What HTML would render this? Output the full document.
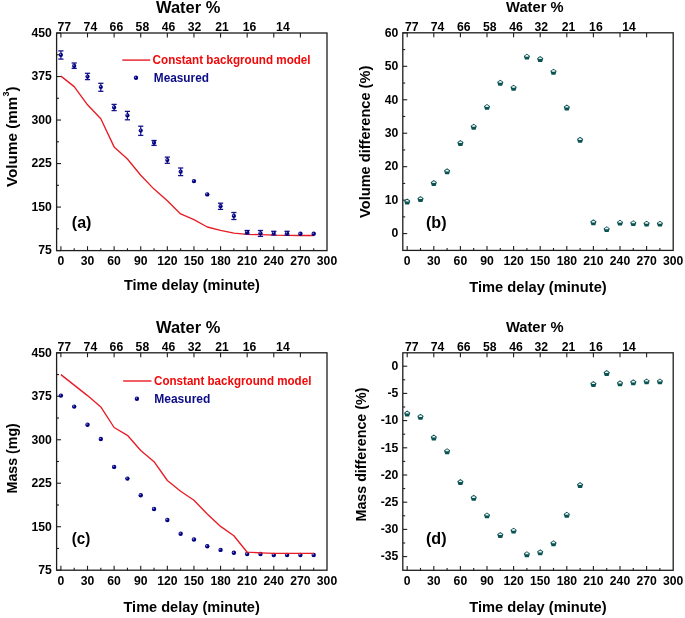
<!DOCTYPE html><html><head><meta charset="utf-8"><style>html,body{margin:0;padding:0;background:#fff;}svg{display:block;will-change:transform;}</style></head><body>
<svg width="685" height="618" viewBox="0 0 685 618" font-family="'Liberation Sans', sans-serif" font-weight="bold">
<rect width="685" height="618" fill="#fff"/>
<rect x="56.6" y="33" width="270.4" height="217.6" fill="none" stroke="#1e1e1e" stroke-width="1.3"/>
<line x1="60.9" y1="250.6" x2="60.9" y2="246.2" stroke="#1e1e1e" stroke-width="1.1"/>
<line x1="60.9" y1="33" x2="60.9" y2="37.4" stroke="#1e1e1e" stroke-width="1.1"/>
<line x1="74.2" y1="250.6" x2="74.2" y2="248.2" stroke="#1e1e1e" stroke-width="1.1"/>
<line x1="87.51" y1="250.6" x2="87.51" y2="246.2" stroke="#1e1e1e" stroke-width="1.1"/>
<line x1="87.51" y1="33" x2="87.51" y2="37.4" stroke="#1e1e1e" stroke-width="1.1"/>
<line x1="100.81" y1="250.6" x2="100.81" y2="248.2" stroke="#1e1e1e" stroke-width="1.1"/>
<line x1="114.12" y1="250.6" x2="114.12" y2="246.2" stroke="#1e1e1e" stroke-width="1.1"/>
<line x1="114.12" y1="33" x2="114.12" y2="37.4" stroke="#1e1e1e" stroke-width="1.1"/>
<line x1="127.43" y1="250.6" x2="127.43" y2="248.2" stroke="#1e1e1e" stroke-width="1.1"/>
<line x1="140.73" y1="250.6" x2="140.73" y2="246.2" stroke="#1e1e1e" stroke-width="1.1"/>
<line x1="140.73" y1="33" x2="140.73" y2="37.4" stroke="#1e1e1e" stroke-width="1.1"/>
<line x1="154.04" y1="250.6" x2="154.04" y2="248.2" stroke="#1e1e1e" stroke-width="1.1"/>
<line x1="167.34" y1="250.6" x2="167.34" y2="246.2" stroke="#1e1e1e" stroke-width="1.1"/>
<line x1="167.34" y1="33" x2="167.34" y2="37.4" stroke="#1e1e1e" stroke-width="1.1"/>
<line x1="180.65" y1="250.6" x2="180.65" y2="248.2" stroke="#1e1e1e" stroke-width="1.1"/>
<line x1="193.95" y1="250.6" x2="193.95" y2="246.2" stroke="#1e1e1e" stroke-width="1.1"/>
<line x1="193.95" y1="33" x2="193.95" y2="37.4" stroke="#1e1e1e" stroke-width="1.1"/>
<line x1="207.26" y1="250.6" x2="207.26" y2="248.2" stroke="#1e1e1e" stroke-width="1.1"/>
<line x1="220.56" y1="250.6" x2="220.56" y2="246.2" stroke="#1e1e1e" stroke-width="1.1"/>
<line x1="220.56" y1="33" x2="220.56" y2="37.4" stroke="#1e1e1e" stroke-width="1.1"/>
<line x1="233.87" y1="250.6" x2="233.87" y2="248.2" stroke="#1e1e1e" stroke-width="1.1"/>
<line x1="247.17" y1="250.6" x2="247.17" y2="246.2" stroke="#1e1e1e" stroke-width="1.1"/>
<line x1="247.17" y1="33" x2="247.17" y2="37.4" stroke="#1e1e1e" stroke-width="1.1"/>
<line x1="260.48" y1="250.6" x2="260.48" y2="248.2" stroke="#1e1e1e" stroke-width="1.1"/>
<line x1="273.78" y1="250.6" x2="273.78" y2="246.2" stroke="#1e1e1e" stroke-width="1.1"/>
<line x1="273.78" y1="33" x2="273.78" y2="37.4" stroke="#1e1e1e" stroke-width="1.1"/>
<line x1="287.09" y1="250.6" x2="287.09" y2="248.2" stroke="#1e1e1e" stroke-width="1.1"/>
<line x1="300.39" y1="250.6" x2="300.39" y2="246.2" stroke="#1e1e1e" stroke-width="1.1"/>
<line x1="300.39" y1="33" x2="300.39" y2="37.4" stroke="#1e1e1e" stroke-width="1.1"/>
<line x1="313.7" y1="250.6" x2="313.7" y2="248.2" stroke="#1e1e1e" stroke-width="1.1"/>
<text x="60.9" y="265.2" font-size="12.2" text-anchor="middle" fill="#000">0</text>
<text x="87.51" y="265.2" font-size="12.2" text-anchor="middle" fill="#000">30</text>
<text x="114.12" y="265.2" font-size="12.2" text-anchor="middle" fill="#000">60</text>
<text x="140.73" y="265.2" font-size="12.2" text-anchor="middle" fill="#000">90</text>
<text x="167.34" y="265.2" font-size="12.2" text-anchor="middle" fill="#000">120</text>
<text x="193.95" y="265.2" font-size="12.2" text-anchor="middle" fill="#000">150</text>
<text x="220.56" y="265.2" font-size="12.2" text-anchor="middle" fill="#000">180</text>
<text x="247.17" y="265.2" font-size="12.2" text-anchor="middle" fill="#000">210</text>
<text x="273.78" y="265.2" font-size="12.2" text-anchor="middle" fill="#000">240</text>
<text x="300.39" y="265.2" font-size="12.2" text-anchor="middle" fill="#000">270</text>
<text x="327" y="265.2" font-size="12.2" text-anchor="middle" fill="#000">300</text>
<line x1="56.6" y1="33" x2="61" y2="33" stroke="#1e1e1e" stroke-width="1.1"/>
<text x="51.9" y="36.8" font-size="12.2" text-anchor="end" fill="#000">450</text>
<line x1="56.6" y1="76.52" x2="61" y2="76.52" stroke="#1e1e1e" stroke-width="1.1"/>
<text x="51.9" y="80.32" font-size="12.2" text-anchor="end" fill="#000">375</text>
<line x1="56.6" y1="120.04" x2="61" y2="120.04" stroke="#1e1e1e" stroke-width="1.1"/>
<text x="51.9" y="123.84" font-size="12.2" text-anchor="end" fill="#000">300</text>
<line x1="56.6" y1="163.56" x2="61" y2="163.56" stroke="#1e1e1e" stroke-width="1.1"/>
<text x="51.9" y="167.36" font-size="12.2" text-anchor="end" fill="#000">225</text>
<line x1="56.6" y1="207.08" x2="61" y2="207.08" stroke="#1e1e1e" stroke-width="1.1"/>
<text x="51.9" y="210.88" font-size="12.2" text-anchor="end" fill="#000">150</text>
<line x1="56.6" y1="250.6" x2="61" y2="250.6" stroke="#1e1e1e" stroke-width="1.1"/>
<text x="51.9" y="254.4" font-size="12.2" text-anchor="end" fill="#000">75</text>
<line x1="56.6" y1="54.76" x2="59" y2="54.76" stroke="#1e1e1e" stroke-width="1.1"/>
<line x1="56.6" y1="98.28" x2="59" y2="98.28" stroke="#1e1e1e" stroke-width="1.1"/>
<line x1="56.6" y1="141.8" x2="59" y2="141.8" stroke="#1e1e1e" stroke-width="1.1"/>
<line x1="56.6" y1="185.32" x2="59" y2="185.32" stroke="#1e1e1e" stroke-width="1.1"/>
<line x1="56.6" y1="228.84" x2="59" y2="228.84" stroke="#1e1e1e" stroke-width="1.1"/>
<text x="64.3" y="30.8" font-size="12.2" text-anchor="middle" fill="#000">77</text>
<text x="90.4" y="30.8" font-size="12.2" text-anchor="middle" fill="#000">74</text>
<text x="116.4" y="30.8" font-size="12.2" text-anchor="middle" fill="#000">66</text>
<text x="142.4" y="30.8" font-size="12.2" text-anchor="middle" fill="#000">58</text>
<text x="168.5" y="30.8" font-size="12.2" text-anchor="middle" fill="#000">46</text>
<text x="194.5" y="30.8" font-size="12.2" text-anchor="middle" fill="#000">32</text>
<text x="222" y="30.8" font-size="12.2" text-anchor="middle" fill="#000">21</text>
<text x="249.5" y="30.8" font-size="12.2" text-anchor="middle" fill="#000">16</text>
<text x="282.9" y="30.8" font-size="12.2" text-anchor="middle" fill="#000">14</text>
<text x="156.1" y="12.8" font-size="15.6" text-anchor="start" fill="#000" textLength="64.2" lengthAdjust="spacingAndGlyphs">Water %</text>
<text x="123.9" y="290.4" font-size="14.6" text-anchor="start" fill="#000" textLength="136" lengthAdjust="spacingAndGlyphs">Time delay (minute)</text>
<text transform="translate(17.3,187.0) rotate(-90)" font-size="15.4" textLength="100.5" lengthAdjust="spacingAndGlyphs">Volume (mm<tspan font-size="9" dy="-8.5">3</tspan><tspan dy="8.5">)</tspan></text>
<text x="71.8" y="228.1" font-size="17" text-anchor="start" fill="#000" textLength="19.6" lengthAdjust="spacingAndGlyphs">(a)</text>
<polyline points="60.9,76.1 74.2,86.6 87.51,104.8 100.81,118.7 114.12,146.9 127.43,159 140.73,175.3 154.04,189.1 167.34,200.8 180.65,213.9 193.95,219.7 207.26,227 220.56,230.4 233.87,233.2 247.17,234.3 260.48,234.7 273.78,235.2 287.09,235.4 300.39,235.5 313.7,235.5" fill="none" stroke="#e81c24" stroke-width="1.35" stroke-linejoin="round"/>
<line x1="60.9" y1="50.9" x2="60.9" y2="59.1" stroke="#14148a" stroke-width="1.2"/>
<line x1="58.3" y1="50.9" x2="63.5" y2="50.9" stroke="#14148a" stroke-width="1.3"/>
<line x1="58.3" y1="59.1" x2="63.5" y2="59.1" stroke="#14148a" stroke-width="1.3"/>
<circle cx="60.9" cy="54.9" r="2.1" fill="#000080"/>
<circle cx="60.4" cy="54.3" r="0.7" fill="#9a9ad8"/>
<line x1="74.2" y1="63" x2="74.2" y2="68.4" stroke="#14148a" stroke-width="1.2"/>
<line x1="71.61" y1="63" x2="76.8" y2="63" stroke="#14148a" stroke-width="1.3"/>
<line x1="71.61" y1="68.4" x2="76.8" y2="68.4" stroke="#14148a" stroke-width="1.3"/>
<circle cx="74.2" cy="65.9" r="2.1" fill="#000080"/>
<circle cx="73.7" cy="65.3" r="0.7" fill="#9a9ad8"/>
<line x1="87.51" y1="73.3" x2="87.51" y2="79.6" stroke="#14148a" stroke-width="1.2"/>
<line x1="84.91" y1="73.3" x2="90.11" y2="73.3" stroke="#14148a" stroke-width="1.3"/>
<line x1="84.91" y1="79.6" x2="90.11" y2="79.6" stroke="#14148a" stroke-width="1.3"/>
<circle cx="87.51" cy="76.6" r="2.1" fill="#000080"/>
<circle cx="87.01" cy="76" r="0.7" fill="#9a9ad8"/>
<line x1="100.81" y1="83.3" x2="100.81" y2="91.3" stroke="#14148a" stroke-width="1.2"/>
<line x1="98.22" y1="83.3" x2="103.41" y2="83.3" stroke="#14148a" stroke-width="1.3"/>
<line x1="98.22" y1="91.3" x2="103.41" y2="91.3" stroke="#14148a" stroke-width="1.3"/>
<circle cx="100.81" cy="87" r="2.1" fill="#000080"/>
<circle cx="100.31" cy="86.4" r="0.7" fill="#9a9ad8"/>
<line x1="114.12" y1="104.4" x2="114.12" y2="110.6" stroke="#14148a" stroke-width="1.2"/>
<line x1="111.52" y1="104.4" x2="116.72" y2="104.4" stroke="#14148a" stroke-width="1.3"/>
<line x1="111.52" y1="110.6" x2="116.72" y2="110.6" stroke="#14148a" stroke-width="1.3"/>
<circle cx="114.12" cy="107.4" r="2.1" fill="#000080"/>
<circle cx="113.62" cy="106.8" r="0.7" fill="#9a9ad8"/>
<line x1="127.43" y1="111.4" x2="127.43" y2="119.8" stroke="#14148a" stroke-width="1.2"/>
<line x1="124.83" y1="111.4" x2="130.03" y2="111.4" stroke="#14148a" stroke-width="1.3"/>
<line x1="124.83" y1="119.8" x2="130.03" y2="119.8" stroke="#14148a" stroke-width="1.3"/>
<circle cx="127.43" cy="115.4" r="2.1" fill="#000080"/>
<circle cx="126.93" cy="114.8" r="0.7" fill="#9a9ad8"/>
<line x1="140.73" y1="126.2" x2="140.73" y2="135.4" stroke="#14148a" stroke-width="1.2"/>
<line x1="138.13" y1="126.2" x2="143.33" y2="126.2" stroke="#14148a" stroke-width="1.3"/>
<line x1="138.13" y1="135.4" x2="143.33" y2="135.4" stroke="#14148a" stroke-width="1.3"/>
<circle cx="140.73" cy="130.6" r="2.1" fill="#000080"/>
<circle cx="140.23" cy="130" r="0.7" fill="#9a9ad8"/>
<line x1="154.04" y1="140.5" x2="154.04" y2="145.4" stroke="#14148a" stroke-width="1.2"/>
<line x1="151.44" y1="140.5" x2="156.64" y2="140.5" stroke="#14148a" stroke-width="1.3"/>
<line x1="151.44" y1="145.4" x2="156.64" y2="145.4" stroke="#14148a" stroke-width="1.3"/>
<circle cx="154.04" cy="142.7" r="2.1" fill="#000080"/>
<circle cx="153.54" cy="142.1" r="0.7" fill="#9a9ad8"/>
<line x1="167.34" y1="157.1" x2="167.34" y2="163.3" stroke="#14148a" stroke-width="1.2"/>
<line x1="164.74" y1="157.1" x2="169.94" y2="157.1" stroke="#14148a" stroke-width="1.3"/>
<line x1="164.74" y1="163.3" x2="169.94" y2="163.3" stroke="#14148a" stroke-width="1.3"/>
<circle cx="167.34" cy="160.1" r="2.1" fill="#000080"/>
<circle cx="166.84" cy="159.5" r="0.7" fill="#9a9ad8"/>
<line x1="180.65" y1="168" x2="180.65" y2="175.6" stroke="#14148a" stroke-width="1.2"/>
<line x1="178.05" y1="168" x2="183.25" y2="168" stroke="#14148a" stroke-width="1.3"/>
<line x1="178.05" y1="175.6" x2="183.25" y2="175.6" stroke="#14148a" stroke-width="1.3"/>
<circle cx="180.65" cy="171.7" r="2.1" fill="#000080"/>
<circle cx="180.15" cy="171.1" r="0.7" fill="#9a9ad8"/>
<circle cx="193.95" cy="181.1" r="2.2" fill="#000080"/>
<circle cx="193.35" cy="180.5" r="0.8" fill="#8a8ad0"/>
<circle cx="207.26" cy="194.4" r="2.2" fill="#000080"/>
<circle cx="206.66" cy="193.8" r="0.8" fill="#8a8ad0"/>
<line x1="220.56" y1="203.2" x2="220.56" y2="209.4" stroke="#14148a" stroke-width="1.2"/>
<line x1="217.96" y1="203.2" x2="223.16" y2="203.2" stroke="#14148a" stroke-width="1.3"/>
<line x1="217.96" y1="209.4" x2="223.16" y2="209.4" stroke="#14148a" stroke-width="1.3"/>
<circle cx="220.56" cy="206.2" r="2.1" fill="#000080"/>
<circle cx="220.06" cy="205.6" r="0.7" fill="#9a9ad8"/>
<line x1="233.87" y1="212.5" x2="233.87" y2="219.5" stroke="#14148a" stroke-width="1.2"/>
<line x1="231.27" y1="212.5" x2="236.47" y2="212.5" stroke="#14148a" stroke-width="1.3"/>
<line x1="231.27" y1="219.5" x2="236.47" y2="219.5" stroke="#14148a" stroke-width="1.3"/>
<circle cx="233.87" cy="215.9" r="2.1" fill="#000080"/>
<circle cx="233.37" cy="215.3" r="0.7" fill="#9a9ad8"/>
<line x1="247.17" y1="230.5" x2="247.17" y2="234" stroke="#14148a" stroke-width="1.2"/>
<line x1="244.57" y1="230.5" x2="249.77" y2="230.5" stroke="#14148a" stroke-width="1.3"/>
<line x1="244.57" y1="234" x2="249.77" y2="234" stroke="#14148a" stroke-width="1.3"/>
<circle cx="247.17" cy="232.2" r="2.1" fill="#000080"/>
<circle cx="246.67" cy="231.6" r="0.7" fill="#9a9ad8"/>
<line x1="260.48" y1="230.5" x2="260.48" y2="236.4" stroke="#14148a" stroke-width="1.2"/>
<line x1="257.88" y1="230.5" x2="263.08" y2="230.5" stroke="#14148a" stroke-width="1.3"/>
<line x1="257.88" y1="236.4" x2="263.08" y2="236.4" stroke="#14148a" stroke-width="1.3"/>
<circle cx="260.48" cy="233.3" r="2.1" fill="#000080"/>
<circle cx="259.98" cy="232.7" r="0.7" fill="#9a9ad8"/>
<line x1="273.78" y1="231.3" x2="273.78" y2="235" stroke="#14148a" stroke-width="1.2"/>
<line x1="271.18" y1="231.3" x2="276.38" y2="231.3" stroke="#14148a" stroke-width="1.3"/>
<line x1="271.18" y1="235" x2="276.38" y2="235" stroke="#14148a" stroke-width="1.3"/>
<circle cx="273.78" cy="233.1" r="2.1" fill="#000080"/>
<circle cx="273.28" cy="232.5" r="0.7" fill="#9a9ad8"/>
<line x1="287.09" y1="231.3" x2="287.09" y2="235.2" stroke="#14148a" stroke-width="1.2"/>
<line x1="284.49" y1="231.3" x2="289.69" y2="231.3" stroke="#14148a" stroke-width="1.3"/>
<line x1="284.49" y1="235.2" x2="289.69" y2="235.2" stroke="#14148a" stroke-width="1.3"/>
<circle cx="287.09" cy="233.3" r="2.1" fill="#000080"/>
<circle cx="286.59" cy="232.7" r="0.7" fill="#9a9ad8"/>
<circle cx="300.39" cy="233.8" r="2.2" fill="#000080"/>
<circle cx="299.79" cy="233.2" r="0.8" fill="#8a8ad0"/>
<circle cx="313.7" cy="233.8" r="2.2" fill="#000080"/>
<circle cx="313.1" cy="233.2" r="0.8" fill="#8a8ad0"/>
<line x1="122.3" y1="60.1" x2="150.2" y2="60.1" stroke="#e81c24" stroke-width="1.4"/>
<text x="152.6" y="63.9" font-size="12.6" text-anchor="start" fill="#f20808" textLength="158" lengthAdjust="spacingAndGlyphs">Constant background model</text>
<circle cx="136" cy="77.8" r="2.2" fill="#000080"/>
<circle cx="135.4" cy="77.2" r="0.8" fill="#8a8ad0"/>
<text x="153.8" y="81.7" font-size="12.6" text-anchor="start" fill="#0c0c84" textLength="55.2" lengthAdjust="spacingAndGlyphs">Measured</text>
<rect x="402.8" y="32.8" width="270.4" height="217.6" fill="none" stroke="#1e1e1e" stroke-width="1.3"/>
<line x1="407.2" y1="250.4" x2="407.2" y2="246" stroke="#1e1e1e" stroke-width="1.1"/>
<line x1="407.2" y1="32.8" x2="407.2" y2="37.2" stroke="#1e1e1e" stroke-width="1.1"/>
<line x1="420.5" y1="250.4" x2="420.5" y2="248" stroke="#1e1e1e" stroke-width="1.1"/>
<line x1="433.8" y1="250.4" x2="433.8" y2="246" stroke="#1e1e1e" stroke-width="1.1"/>
<line x1="433.8" y1="32.8" x2="433.8" y2="37.2" stroke="#1e1e1e" stroke-width="1.1"/>
<line x1="447.1" y1="250.4" x2="447.1" y2="248" stroke="#1e1e1e" stroke-width="1.1"/>
<line x1="460.4" y1="250.4" x2="460.4" y2="246" stroke="#1e1e1e" stroke-width="1.1"/>
<line x1="460.4" y1="32.8" x2="460.4" y2="37.2" stroke="#1e1e1e" stroke-width="1.1"/>
<line x1="473.7" y1="250.4" x2="473.7" y2="248" stroke="#1e1e1e" stroke-width="1.1"/>
<line x1="487" y1="250.4" x2="487" y2="246" stroke="#1e1e1e" stroke-width="1.1"/>
<line x1="487" y1="32.8" x2="487" y2="37.2" stroke="#1e1e1e" stroke-width="1.1"/>
<line x1="500.3" y1="250.4" x2="500.3" y2="248" stroke="#1e1e1e" stroke-width="1.1"/>
<line x1="513.6" y1="250.4" x2="513.6" y2="246" stroke="#1e1e1e" stroke-width="1.1"/>
<line x1="513.6" y1="32.8" x2="513.6" y2="37.2" stroke="#1e1e1e" stroke-width="1.1"/>
<line x1="526.9" y1="250.4" x2="526.9" y2="248" stroke="#1e1e1e" stroke-width="1.1"/>
<line x1="540.2" y1="250.4" x2="540.2" y2="246" stroke="#1e1e1e" stroke-width="1.1"/>
<line x1="540.2" y1="32.8" x2="540.2" y2="37.2" stroke="#1e1e1e" stroke-width="1.1"/>
<line x1="553.5" y1="250.4" x2="553.5" y2="248" stroke="#1e1e1e" stroke-width="1.1"/>
<line x1="566.8" y1="250.4" x2="566.8" y2="246" stroke="#1e1e1e" stroke-width="1.1"/>
<line x1="566.8" y1="32.8" x2="566.8" y2="37.2" stroke="#1e1e1e" stroke-width="1.1"/>
<line x1="580.1" y1="250.4" x2="580.1" y2="248" stroke="#1e1e1e" stroke-width="1.1"/>
<line x1="593.4" y1="250.4" x2="593.4" y2="246" stroke="#1e1e1e" stroke-width="1.1"/>
<line x1="593.4" y1="32.8" x2="593.4" y2="37.2" stroke="#1e1e1e" stroke-width="1.1"/>
<line x1="606.7" y1="250.4" x2="606.7" y2="248" stroke="#1e1e1e" stroke-width="1.1"/>
<line x1="620" y1="250.4" x2="620" y2="246" stroke="#1e1e1e" stroke-width="1.1"/>
<line x1="620" y1="32.8" x2="620" y2="37.2" stroke="#1e1e1e" stroke-width="1.1"/>
<line x1="633.3" y1="250.4" x2="633.3" y2="248" stroke="#1e1e1e" stroke-width="1.1"/>
<line x1="646.6" y1="250.4" x2="646.6" y2="246" stroke="#1e1e1e" stroke-width="1.1"/>
<line x1="646.6" y1="32.8" x2="646.6" y2="37.2" stroke="#1e1e1e" stroke-width="1.1"/>
<line x1="659.9" y1="250.4" x2="659.9" y2="248" stroke="#1e1e1e" stroke-width="1.1"/>
<text x="407.2" y="265" font-size="12.2" text-anchor="middle" fill="#000">0</text>
<text x="433.8" y="265" font-size="12.2" text-anchor="middle" fill="#000">30</text>
<text x="460.4" y="265" font-size="12.2" text-anchor="middle" fill="#000">60</text>
<text x="487" y="265" font-size="12.2" text-anchor="middle" fill="#000">90</text>
<text x="513.6" y="265" font-size="12.2" text-anchor="middle" fill="#000">120</text>
<text x="540.2" y="265" font-size="12.2" text-anchor="middle" fill="#000">150</text>
<text x="566.8" y="265" font-size="12.2" text-anchor="middle" fill="#000">180</text>
<text x="593.4" y="265" font-size="12.2" text-anchor="middle" fill="#000">210</text>
<text x="620" y="265" font-size="12.2" text-anchor="middle" fill="#000">240</text>
<text x="646.6" y="265" font-size="12.2" text-anchor="middle" fill="#000">270</text>
<text x="673.2" y="265" font-size="12.2" text-anchor="middle" fill="#000">300</text>
<line x1="402.8" y1="32.84" x2="407.2" y2="32.84" stroke="#1e1e1e" stroke-width="1.1"/>
<text x="398.3" y="36.64" font-size="12.2" text-anchor="end" fill="#000">60</text>
<line x1="402.8" y1="66.3" x2="407.2" y2="66.3" stroke="#1e1e1e" stroke-width="1.1"/>
<text x="398.3" y="70.1" font-size="12.2" text-anchor="end" fill="#000">50</text>
<line x1="402.8" y1="99.76" x2="407.2" y2="99.76" stroke="#1e1e1e" stroke-width="1.1"/>
<text x="398.3" y="103.56" font-size="12.2" text-anchor="end" fill="#000">40</text>
<line x1="402.8" y1="133.22" x2="407.2" y2="133.22" stroke="#1e1e1e" stroke-width="1.1"/>
<text x="398.3" y="137.02" font-size="12.2" text-anchor="end" fill="#000">30</text>
<line x1="402.8" y1="166.68" x2="407.2" y2="166.68" stroke="#1e1e1e" stroke-width="1.1"/>
<text x="398.3" y="170.48" font-size="12.2" text-anchor="end" fill="#000">20</text>
<line x1="402.8" y1="200.14" x2="407.2" y2="200.14" stroke="#1e1e1e" stroke-width="1.1"/>
<text x="398.3" y="203.94" font-size="12.2" text-anchor="end" fill="#000">10</text>
<line x1="402.8" y1="233.6" x2="407.2" y2="233.6" stroke="#1e1e1e" stroke-width="1.1"/>
<text x="398.3" y="237.4" font-size="12.2" text-anchor="end" fill="#000">0</text>
<line x1="402.8" y1="49.57" x2="405.2" y2="49.57" stroke="#1e1e1e" stroke-width="1.1"/>
<line x1="402.8" y1="83.03" x2="405.2" y2="83.03" stroke="#1e1e1e" stroke-width="1.1"/>
<line x1="402.8" y1="116.49" x2="405.2" y2="116.49" stroke="#1e1e1e" stroke-width="1.1"/>
<line x1="402.8" y1="149.95" x2="405.2" y2="149.95" stroke="#1e1e1e" stroke-width="1.1"/>
<line x1="402.8" y1="183.41" x2="405.2" y2="183.41" stroke="#1e1e1e" stroke-width="1.1"/>
<line x1="402.8" y1="216.87" x2="405.2" y2="216.87" stroke="#1e1e1e" stroke-width="1.1"/>
<text x="411.8" y="30.6" font-size="12.2" text-anchor="middle" fill="#000">77</text>
<text x="437.6" y="30.6" font-size="12.2" text-anchor="middle" fill="#000">74</text>
<text x="463.8" y="30.6" font-size="12.2" text-anchor="middle" fill="#000">66</text>
<text x="489.7" y="30.6" font-size="12.2" text-anchor="middle" fill="#000">58</text>
<text x="516" y="30.6" font-size="12.2" text-anchor="middle" fill="#000">46</text>
<text x="541.3" y="30.6" font-size="12.2" text-anchor="middle" fill="#000">32</text>
<text x="568.5" y="30.6" font-size="12.2" text-anchor="middle" fill="#000">21</text>
<text x="595.9" y="30.6" font-size="12.2" text-anchor="middle" fill="#000">16</text>
<text x="629.1" y="30.6" font-size="12.2" text-anchor="middle" fill="#000">14</text>
<text x="506.1" y="12" font-size="14.2" text-anchor="start" fill="#000" textLength="57.4" lengthAdjust="spacingAndGlyphs">Water %</text>
<text x="469.3" y="291.7" font-size="14.2" text-anchor="start" fill="#000" textLength="137.4" lengthAdjust="spacingAndGlyphs">Time delay (minute)</text>
<text transform="translate(369.6,217.9) rotate(-90)" font-size="15" textLength="152.2" lengthAdjust="spacingAndGlyphs">Volume difference (%)</text>
<text x="426" y="228.1" font-size="17" text-anchor="start" fill="#000" textLength="20.6" lengthAdjust="spacingAndGlyphs">(b)</text>
<polygon points="407.2,198.55 410.29,200.8 409.11,204.43 405.29,204.43 404.11,200.8" fill="#0b5253"/>
<polygon points="405.4,201 406.4,199.9 408,199.9 409,201 408.7,201.6 405.7,201.6" fill="#eef4f4"/>
<polygon points="420.5,196.05 423.59,198.3 422.41,201.93 418.59,201.93 417.41,198.3" fill="#0b5253"/>
<polygon points="418.7,198.5 419.7,197.4 421.3,197.4 422.3,198.5 422,199.1 419,199.1" fill="#eef4f4"/>
<polygon points="433.8,180.05 436.89,182.3 435.71,185.93 431.89,185.93 430.71,182.3" fill="#0b5253"/>
<polygon points="432,182.5 433,181.4 434.6,181.4 435.6,182.5 435.3,183.1 432.3,183.1" fill="#eef4f4"/>
<polygon points="447.1,168.35 450.19,170.6 449.01,174.23 445.19,174.23 444.01,170.6" fill="#0b5253"/>
<polygon points="445.3,170.8 446.3,169.7 447.9,169.7 448.9,170.8 448.6,171.4 445.6,171.4" fill="#eef4f4"/>
<polygon points="460.4,140.05 463.49,142.3 462.31,145.93 458.49,145.93 457.31,142.3" fill="#0b5253"/>
<polygon points="458.6,142.5 459.6,141.4 461.2,141.4 462.2,142.5 461.9,143.1 458.9,143.1" fill="#eef4f4"/>
<polygon points="473.7,123.75 476.79,126 475.61,129.63 471.79,129.63 470.61,126" fill="#0b5253"/>
<polygon points="471.9,126.2 472.9,125.1 474.5,125.1 475.5,126.2 475.2,126.8 472.2,126.8" fill="#eef4f4"/>
<polygon points="487,103.95 490.09,106.2 488.91,109.83 485.09,109.83 483.91,106.2" fill="#0b5253"/>
<polygon points="485.2,106.4 486.2,105.3 487.8,105.3 488.8,106.4 488.5,107 485.5,107" fill="#eef4f4"/>
<polygon points="500.3,79.75 503.39,82 502.21,85.63 498.39,85.63 497.21,82" fill="#0b5253"/>
<polygon points="498.5,82.2 499.5,81.1 501.1,81.1 502.1,82.2 501.8,82.8 498.8,82.8" fill="#eef4f4"/>
<polygon points="513.6,84.75 516.69,87 515.51,90.63 511.69,90.63 510.51,87" fill="#0b5253"/>
<polygon points="511.8,87.2 512.8,86.1 514.4,86.1 515.4,87.2 515.1,87.8 512.1,87.8" fill="#eef4f4"/>
<polygon points="526.9,53.65 529.99,55.9 528.81,59.53 524.99,59.53 523.81,55.9" fill="#0b5253"/>
<polygon points="525.1,56.1 526.1,55 527.7,55 528.7,56.1 528.4,56.7 525.4,56.7" fill="#eef4f4"/>
<polygon points="540.2,56.05 543.29,58.3 542.11,61.93 538.29,61.93 537.11,58.3" fill="#0b5253"/>
<polygon points="538.4,58.5 539.4,57.4 541,57.4 542,58.5 541.7,59.1 538.7,59.1" fill="#eef4f4"/>
<polygon points="553.5,68.75 556.59,71 555.41,74.63 551.59,74.63 550.41,71" fill="#0b5253"/>
<polygon points="551.7,71.2 552.7,70.1 554.3,70.1 555.3,71.2 555,71.8 552,71.8" fill="#eef4f4"/>
<polygon points="566.8,104.55 569.89,106.8 568.71,110.43 564.89,110.43 563.71,106.8" fill="#0b5253"/>
<polygon points="565,107 566,105.9 567.6,105.9 568.6,107 568.3,107.6 565.3,107.6" fill="#eef4f4"/>
<polygon points="580.1,136.85 583.19,139.1 582.01,142.73 578.19,142.73 577.01,139.1" fill="#0b5253"/>
<polygon points="578.3,139.3 579.3,138.2 580.9,138.2 581.9,139.3 581.6,139.9 578.6,139.9" fill="#eef4f4"/>
<polygon points="593.4,219.35 596.49,221.6 595.31,225.23 591.49,225.23 590.31,221.6" fill="#0b5253"/>
<polygon points="591.6,221.8 592.6,220.7 594.2,220.7 595.2,221.8 594.9,222.4 591.9,222.4" fill="#eef4f4"/>
<polygon points="606.7,226.15 609.79,228.4 608.61,232.03 604.79,232.03 603.61,228.4" fill="#0b5253"/>
<polygon points="604.9,228.6 605.9,227.5 607.5,227.5 608.5,228.6 608.2,229.2 605.2,229.2" fill="#eef4f4"/>
<polygon points="620,219.65 623.09,221.9 621.91,225.53 618.09,225.53 616.91,221.9" fill="#0b5253"/>
<polygon points="618.2,222.1 619.2,221 620.8,221 621.8,222.1 621.5,222.7 618.5,222.7" fill="#eef4f4"/>
<polygon points="633.3,220.15 636.39,222.4 635.21,226.03 631.39,226.03 630.21,222.4" fill="#0b5253"/>
<polygon points="631.5,222.6 632.5,221.5 634.1,221.5 635.1,222.6 634.8,223.2 631.8,223.2" fill="#eef4f4"/>
<polygon points="646.6,220.65 649.69,222.9 648.51,226.53 644.69,226.53 643.51,222.9" fill="#0b5253"/>
<polygon points="644.8,223.1 645.8,222 647.4,222 648.4,223.1 648.1,223.7 645.1,223.7" fill="#eef4f4"/>
<polygon points="659.9,220.65 662.99,222.9 661.81,226.53 657.99,226.53 656.81,222.9" fill="#0b5253"/>
<polygon points="658.1,223.1 659.1,222 660.7,222 661.7,223.1 661.4,223.7 658.4,223.7" fill="#eef4f4"/>
<rect x="56.6" y="352.8" width="270.4" height="217.4" fill="none" stroke="#1e1e1e" stroke-width="1.3"/>
<line x1="60.9" y1="570.2" x2="60.9" y2="565.8" stroke="#1e1e1e" stroke-width="1.1"/>
<line x1="60.9" y1="352.8" x2="60.9" y2="357.2" stroke="#1e1e1e" stroke-width="1.1"/>
<line x1="74.2" y1="570.2" x2="74.2" y2="567.8" stroke="#1e1e1e" stroke-width="1.1"/>
<line x1="87.51" y1="570.2" x2="87.51" y2="565.8" stroke="#1e1e1e" stroke-width="1.1"/>
<line x1="87.51" y1="352.8" x2="87.51" y2="357.2" stroke="#1e1e1e" stroke-width="1.1"/>
<line x1="100.81" y1="570.2" x2="100.81" y2="567.8" stroke="#1e1e1e" stroke-width="1.1"/>
<line x1="114.12" y1="570.2" x2="114.12" y2="565.8" stroke="#1e1e1e" stroke-width="1.1"/>
<line x1="114.12" y1="352.8" x2="114.12" y2="357.2" stroke="#1e1e1e" stroke-width="1.1"/>
<line x1="127.43" y1="570.2" x2="127.43" y2="567.8" stroke="#1e1e1e" stroke-width="1.1"/>
<line x1="140.73" y1="570.2" x2="140.73" y2="565.8" stroke="#1e1e1e" stroke-width="1.1"/>
<line x1="140.73" y1="352.8" x2="140.73" y2="357.2" stroke="#1e1e1e" stroke-width="1.1"/>
<line x1="154.04" y1="570.2" x2="154.04" y2="567.8" stroke="#1e1e1e" stroke-width="1.1"/>
<line x1="167.34" y1="570.2" x2="167.34" y2="565.8" stroke="#1e1e1e" stroke-width="1.1"/>
<line x1="167.34" y1="352.8" x2="167.34" y2="357.2" stroke="#1e1e1e" stroke-width="1.1"/>
<line x1="180.65" y1="570.2" x2="180.65" y2="567.8" stroke="#1e1e1e" stroke-width="1.1"/>
<line x1="193.95" y1="570.2" x2="193.95" y2="565.8" stroke="#1e1e1e" stroke-width="1.1"/>
<line x1="193.95" y1="352.8" x2="193.95" y2="357.2" stroke="#1e1e1e" stroke-width="1.1"/>
<line x1="207.26" y1="570.2" x2="207.26" y2="567.8" stroke="#1e1e1e" stroke-width="1.1"/>
<line x1="220.56" y1="570.2" x2="220.56" y2="565.8" stroke="#1e1e1e" stroke-width="1.1"/>
<line x1="220.56" y1="352.8" x2="220.56" y2="357.2" stroke="#1e1e1e" stroke-width="1.1"/>
<line x1="233.87" y1="570.2" x2="233.87" y2="567.8" stroke="#1e1e1e" stroke-width="1.1"/>
<line x1="247.17" y1="570.2" x2="247.17" y2="565.8" stroke="#1e1e1e" stroke-width="1.1"/>
<line x1="247.17" y1="352.8" x2="247.17" y2="357.2" stroke="#1e1e1e" stroke-width="1.1"/>
<line x1="260.48" y1="570.2" x2="260.48" y2="567.8" stroke="#1e1e1e" stroke-width="1.1"/>
<line x1="273.78" y1="570.2" x2="273.78" y2="565.8" stroke="#1e1e1e" stroke-width="1.1"/>
<line x1="273.78" y1="352.8" x2="273.78" y2="357.2" stroke="#1e1e1e" stroke-width="1.1"/>
<line x1="287.09" y1="570.2" x2="287.09" y2="567.8" stroke="#1e1e1e" stroke-width="1.1"/>
<line x1="300.39" y1="570.2" x2="300.39" y2="565.8" stroke="#1e1e1e" stroke-width="1.1"/>
<line x1="300.39" y1="352.8" x2="300.39" y2="357.2" stroke="#1e1e1e" stroke-width="1.1"/>
<line x1="313.7" y1="570.2" x2="313.7" y2="567.8" stroke="#1e1e1e" stroke-width="1.1"/>
<text x="60.9" y="584.8" font-size="12.2" text-anchor="middle" fill="#000">0</text>
<text x="87.51" y="584.8" font-size="12.2" text-anchor="middle" fill="#000">30</text>
<text x="114.12" y="584.8" font-size="12.2" text-anchor="middle" fill="#000">60</text>
<text x="140.73" y="584.8" font-size="12.2" text-anchor="middle" fill="#000">90</text>
<text x="167.34" y="584.8" font-size="12.2" text-anchor="middle" fill="#000">120</text>
<text x="193.95" y="584.8" font-size="12.2" text-anchor="middle" fill="#000">150</text>
<text x="220.56" y="584.8" font-size="12.2" text-anchor="middle" fill="#000">180</text>
<text x="247.17" y="584.8" font-size="12.2" text-anchor="middle" fill="#000">210</text>
<text x="273.78" y="584.8" font-size="12.2" text-anchor="middle" fill="#000">240</text>
<text x="300.39" y="584.8" font-size="12.2" text-anchor="middle" fill="#000">270</text>
<text x="327" y="584.8" font-size="12.2" text-anchor="middle" fill="#000">300</text>
<line x1="56.6" y1="352.8" x2="61" y2="352.8" stroke="#1e1e1e" stroke-width="1.1"/>
<text x="51.9" y="356.6" font-size="12.2" text-anchor="end" fill="#000">450</text>
<line x1="56.6" y1="396.28" x2="61" y2="396.28" stroke="#1e1e1e" stroke-width="1.1"/>
<text x="51.9" y="400.08" font-size="12.2" text-anchor="end" fill="#000">375</text>
<line x1="56.6" y1="439.76" x2="61" y2="439.76" stroke="#1e1e1e" stroke-width="1.1"/>
<text x="51.9" y="443.56" font-size="12.2" text-anchor="end" fill="#000">300</text>
<line x1="56.6" y1="483.24" x2="61" y2="483.24" stroke="#1e1e1e" stroke-width="1.1"/>
<text x="51.9" y="487.04" font-size="12.2" text-anchor="end" fill="#000">225</text>
<line x1="56.6" y1="526.72" x2="61" y2="526.72" stroke="#1e1e1e" stroke-width="1.1"/>
<text x="51.9" y="530.52" font-size="12.2" text-anchor="end" fill="#000">150</text>
<line x1="56.6" y1="570.2" x2="61" y2="570.2" stroke="#1e1e1e" stroke-width="1.1"/>
<text x="51.9" y="574" font-size="12.2" text-anchor="end" fill="#000">75</text>
<line x1="56.6" y1="374.54" x2="59" y2="374.54" stroke="#1e1e1e" stroke-width="1.1"/>
<line x1="56.6" y1="418.02" x2="59" y2="418.02" stroke="#1e1e1e" stroke-width="1.1"/>
<line x1="56.6" y1="461.5" x2="59" y2="461.5" stroke="#1e1e1e" stroke-width="1.1"/>
<line x1="56.6" y1="504.98" x2="59" y2="504.98" stroke="#1e1e1e" stroke-width="1.1"/>
<line x1="56.6" y1="548.46" x2="59" y2="548.46" stroke="#1e1e1e" stroke-width="1.1"/>
<text x="64.3" y="350.6" font-size="12.2" text-anchor="middle" fill="#000">77</text>
<text x="90.4" y="350.6" font-size="12.2" text-anchor="middle" fill="#000">74</text>
<text x="116.4" y="350.6" font-size="12.2" text-anchor="middle" fill="#000">66</text>
<text x="142.4" y="350.6" font-size="12.2" text-anchor="middle" fill="#000">58</text>
<text x="168.5" y="350.6" font-size="12.2" text-anchor="middle" fill="#000">46</text>
<text x="194.5" y="350.6" font-size="12.2" text-anchor="middle" fill="#000">32</text>
<text x="222" y="350.6" font-size="12.2" text-anchor="middle" fill="#000">21</text>
<text x="249.5" y="350.6" font-size="12.2" text-anchor="middle" fill="#000">16</text>
<text x="282.9" y="350.6" font-size="12.2" text-anchor="middle" fill="#000">14</text>
<text x="156.1" y="332.7" font-size="15.6" text-anchor="start" fill="#000" textLength="64.2" lengthAdjust="spacingAndGlyphs">Water %</text>
<text x="123.5" y="612" font-size="14.6" text-anchor="start" fill="#000" textLength="136.3" lengthAdjust="spacingAndGlyphs">Time delay (minute)</text>
<text transform="translate(17.3,493.4) rotate(-90)" font-size="15.4" textLength="70.2" lengthAdjust="spacingAndGlyphs">Mass (mg)</text>
<text x="71.8" y="544.4" font-size="17" text-anchor="start" fill="#000" textLength="18.6" lengthAdjust="spacingAndGlyphs">(c)</text>
<circle cx="60.9" cy="395.6" r="2.2" fill="#000080"/>
<circle cx="60.3" cy="395" r="0.8" fill="#8a8ad0"/>
<circle cx="74.2" cy="406.6" r="2.2" fill="#000080"/>
<circle cx="73.61" cy="406" r="0.8" fill="#8a8ad0"/>
<circle cx="87.51" cy="424.7" r="2.2" fill="#000080"/>
<circle cx="86.91" cy="424.1" r="0.8" fill="#8a8ad0"/>
<circle cx="100.81" cy="439.05" r="2.2" fill="#000080"/>
<circle cx="100.22" cy="438.45" r="0.8" fill="#8a8ad0"/>
<circle cx="114.12" cy="466.9" r="2.2" fill="#000080"/>
<circle cx="113.52" cy="466.3" r="0.8" fill="#8a8ad0"/>
<circle cx="127.43" cy="478.6" r="2.2" fill="#000080"/>
<circle cx="126.83" cy="478" r="0.8" fill="#8a8ad0"/>
<circle cx="140.73" cy="495.2" r="2.2" fill="#000080"/>
<circle cx="140.13" cy="494.6" r="0.8" fill="#8a8ad0"/>
<circle cx="154.04" cy="509" r="2.2" fill="#000080"/>
<circle cx="153.44" cy="508.4" r="0.8" fill="#8a8ad0"/>
<circle cx="167.34" cy="520" r="2.2" fill="#000080"/>
<circle cx="166.74" cy="519.4" r="0.8" fill="#8a8ad0"/>
<circle cx="180.65" cy="533.7" r="2.2" fill="#000080"/>
<circle cx="180.05" cy="533.1" r="0.8" fill="#8a8ad0"/>
<circle cx="193.95" cy="539.5" r="2.2" fill="#000080"/>
<circle cx="193.35" cy="538.9" r="0.8" fill="#8a8ad0"/>
<circle cx="207.26" cy="546.3" r="2.2" fill="#000080"/>
<circle cx="206.66" cy="545.7" r="0.8" fill="#8a8ad0"/>
<circle cx="220.56" cy="549.9" r="2.2" fill="#000080"/>
<circle cx="219.96" cy="549.3" r="0.8" fill="#8a8ad0"/>
<circle cx="233.87" cy="552.8" r="2.2" fill="#000080"/>
<circle cx="233.27" cy="552.2" r="0.8" fill="#8a8ad0"/>
<circle cx="247.17" cy="554" r="2.2" fill="#000080"/>
<circle cx="246.57" cy="553.4" r="0.8" fill="#8a8ad0"/>
<circle cx="260.48" cy="554" r="2.2" fill="#000080"/>
<circle cx="259.88" cy="553.4" r="0.8" fill="#8a8ad0"/>
<circle cx="273.78" cy="555" r="2.2" fill="#000080"/>
<circle cx="273.18" cy="554.4" r="0.8" fill="#8a8ad0"/>
<circle cx="287.09" cy="555" r="2.2" fill="#000080"/>
<circle cx="286.49" cy="554.4" r="0.8" fill="#8a8ad0"/>
<circle cx="300.39" cy="555" r="2.2" fill="#000080"/>
<circle cx="299.79" cy="554.4" r="0.8" fill="#8a8ad0"/>
<circle cx="313.7" cy="555" r="2.2" fill="#000080"/>
<circle cx="313.1" cy="554.4" r="0.8" fill="#8a8ad0"/>
<polyline points="60.9,374.6 74.2,385.1 87.51,395.6 100.81,406.9 114.12,427.5 127.43,435.3 140.73,450.5 154.04,461.7 167.34,480.5 180.65,491.2 193.95,500.3 207.26,514 220.56,526.4 233.87,535.8 247.17,552.2 260.48,552.8 273.78,553.3 287.09,553.3 300.39,553.3 313.7,553.3" fill="none" stroke="#e81c24" stroke-width="1.35" stroke-linejoin="round"/>
<line x1="123.2" y1="381.0" x2="151.5" y2="381.0" stroke="#e81c24" stroke-width="1.4"/>
<text x="154" y="384.7" font-size="12.6" text-anchor="start" fill="#f20808" textLength="157.4" lengthAdjust="spacingAndGlyphs">Constant background model</text>
<circle cx="136.9" cy="398.7" r="2.2" fill="#000080"/>
<circle cx="136.3" cy="398.1" r="0.8" fill="#8a8ad0"/>
<text x="154.2" y="403.3" font-size="12.6" text-anchor="start" fill="#0c0c84" textLength="56.2" lengthAdjust="spacingAndGlyphs">Measured</text>
<rect x="402.8" y="352.8" width="270.4" height="217.5" fill="none" stroke="#1e1e1e" stroke-width="1.3"/>
<line x1="407.2" y1="570.3" x2="407.2" y2="565.9" stroke="#1e1e1e" stroke-width="1.1"/>
<line x1="407.2" y1="352.8" x2="407.2" y2="357.2" stroke="#1e1e1e" stroke-width="1.1"/>
<line x1="420.5" y1="570.3" x2="420.5" y2="567.9" stroke="#1e1e1e" stroke-width="1.1"/>
<line x1="433.8" y1="570.3" x2="433.8" y2="565.9" stroke="#1e1e1e" stroke-width="1.1"/>
<line x1="433.8" y1="352.8" x2="433.8" y2="357.2" stroke="#1e1e1e" stroke-width="1.1"/>
<line x1="447.1" y1="570.3" x2="447.1" y2="567.9" stroke="#1e1e1e" stroke-width="1.1"/>
<line x1="460.4" y1="570.3" x2="460.4" y2="565.9" stroke="#1e1e1e" stroke-width="1.1"/>
<line x1="460.4" y1="352.8" x2="460.4" y2="357.2" stroke="#1e1e1e" stroke-width="1.1"/>
<line x1="473.7" y1="570.3" x2="473.7" y2="567.9" stroke="#1e1e1e" stroke-width="1.1"/>
<line x1="487" y1="570.3" x2="487" y2="565.9" stroke="#1e1e1e" stroke-width="1.1"/>
<line x1="487" y1="352.8" x2="487" y2="357.2" stroke="#1e1e1e" stroke-width="1.1"/>
<line x1="500.3" y1="570.3" x2="500.3" y2="567.9" stroke="#1e1e1e" stroke-width="1.1"/>
<line x1="513.6" y1="570.3" x2="513.6" y2="565.9" stroke="#1e1e1e" stroke-width="1.1"/>
<line x1="513.6" y1="352.8" x2="513.6" y2="357.2" stroke="#1e1e1e" stroke-width="1.1"/>
<line x1="526.9" y1="570.3" x2="526.9" y2="567.9" stroke="#1e1e1e" stroke-width="1.1"/>
<line x1="540.2" y1="570.3" x2="540.2" y2="565.9" stroke="#1e1e1e" stroke-width="1.1"/>
<line x1="540.2" y1="352.8" x2="540.2" y2="357.2" stroke="#1e1e1e" stroke-width="1.1"/>
<line x1="553.5" y1="570.3" x2="553.5" y2="567.9" stroke="#1e1e1e" stroke-width="1.1"/>
<line x1="566.8" y1="570.3" x2="566.8" y2="565.9" stroke="#1e1e1e" stroke-width="1.1"/>
<line x1="566.8" y1="352.8" x2="566.8" y2="357.2" stroke="#1e1e1e" stroke-width="1.1"/>
<line x1="580.1" y1="570.3" x2="580.1" y2="567.9" stroke="#1e1e1e" stroke-width="1.1"/>
<line x1="593.4" y1="570.3" x2="593.4" y2="565.9" stroke="#1e1e1e" stroke-width="1.1"/>
<line x1="593.4" y1="352.8" x2="593.4" y2="357.2" stroke="#1e1e1e" stroke-width="1.1"/>
<line x1="606.7" y1="570.3" x2="606.7" y2="567.9" stroke="#1e1e1e" stroke-width="1.1"/>
<line x1="620" y1="570.3" x2="620" y2="565.9" stroke="#1e1e1e" stroke-width="1.1"/>
<line x1="620" y1="352.8" x2="620" y2="357.2" stroke="#1e1e1e" stroke-width="1.1"/>
<line x1="633.3" y1="570.3" x2="633.3" y2="567.9" stroke="#1e1e1e" stroke-width="1.1"/>
<line x1="646.6" y1="570.3" x2="646.6" y2="565.9" stroke="#1e1e1e" stroke-width="1.1"/>
<line x1="646.6" y1="352.8" x2="646.6" y2="357.2" stroke="#1e1e1e" stroke-width="1.1"/>
<line x1="659.9" y1="570.3" x2="659.9" y2="567.9" stroke="#1e1e1e" stroke-width="1.1"/>
<text x="407.2" y="584.9" font-size="12.2" text-anchor="middle" fill="#000">0</text>
<text x="433.8" y="584.9" font-size="12.2" text-anchor="middle" fill="#000">30</text>
<text x="460.4" y="584.9" font-size="12.2" text-anchor="middle" fill="#000">60</text>
<text x="487" y="584.9" font-size="12.2" text-anchor="middle" fill="#000">90</text>
<text x="513.6" y="584.9" font-size="12.2" text-anchor="middle" fill="#000">120</text>
<text x="540.2" y="584.9" font-size="12.2" text-anchor="middle" fill="#000">150</text>
<text x="566.8" y="584.9" font-size="12.2" text-anchor="middle" fill="#000">180</text>
<text x="593.4" y="584.9" font-size="12.2" text-anchor="middle" fill="#000">210</text>
<text x="620" y="584.9" font-size="12.2" text-anchor="middle" fill="#000">240</text>
<text x="646.6" y="584.9" font-size="12.2" text-anchor="middle" fill="#000">270</text>
<text x="673.2" y="584.9" font-size="12.2" text-anchor="middle" fill="#000">300</text>
<line x1="402.8" y1="366.2" x2="407.2" y2="366.2" stroke="#1e1e1e" stroke-width="1.1"/>
<text x="398.4" y="370" font-size="12.2" text-anchor="end" fill="#000">0</text>
<line x1="402.8" y1="393.4" x2="407.2" y2="393.4" stroke="#1e1e1e" stroke-width="1.1"/>
<text x="398.4" y="397.2" font-size="12.2" text-anchor="end" fill="#000">-5</text>
<line x1="402.8" y1="420.6" x2="407.2" y2="420.6" stroke="#1e1e1e" stroke-width="1.1"/>
<text x="398.4" y="424.4" font-size="12.2" text-anchor="end" fill="#000">-10</text>
<line x1="402.8" y1="447.8" x2="407.2" y2="447.8" stroke="#1e1e1e" stroke-width="1.1"/>
<text x="398.4" y="451.6" font-size="12.2" text-anchor="end" fill="#000">-15</text>
<line x1="402.8" y1="475" x2="407.2" y2="475" stroke="#1e1e1e" stroke-width="1.1"/>
<text x="398.4" y="478.8" font-size="12.2" text-anchor="end" fill="#000">-20</text>
<line x1="402.8" y1="502.2" x2="407.2" y2="502.2" stroke="#1e1e1e" stroke-width="1.1"/>
<text x="398.4" y="506" font-size="12.2" text-anchor="end" fill="#000">-25</text>
<line x1="402.8" y1="529.4" x2="407.2" y2="529.4" stroke="#1e1e1e" stroke-width="1.1"/>
<text x="398.4" y="533.2" font-size="12.2" text-anchor="end" fill="#000">-30</text>
<line x1="402.8" y1="556.6" x2="407.2" y2="556.6" stroke="#1e1e1e" stroke-width="1.1"/>
<text x="398.4" y="560.4" font-size="12.2" text-anchor="end" fill="#000">-35</text>
<line x1="402.8" y1="379.8" x2="405.2" y2="379.8" stroke="#1e1e1e" stroke-width="1.1"/>
<line x1="402.8" y1="407" x2="405.2" y2="407" stroke="#1e1e1e" stroke-width="1.1"/>
<line x1="402.8" y1="434.2" x2="405.2" y2="434.2" stroke="#1e1e1e" stroke-width="1.1"/>
<line x1="402.8" y1="461.4" x2="405.2" y2="461.4" stroke="#1e1e1e" stroke-width="1.1"/>
<line x1="402.8" y1="488.6" x2="405.2" y2="488.6" stroke="#1e1e1e" stroke-width="1.1"/>
<line x1="402.8" y1="515.8" x2="405.2" y2="515.8" stroke="#1e1e1e" stroke-width="1.1"/>
<line x1="402.8" y1="543" x2="405.2" y2="543" stroke="#1e1e1e" stroke-width="1.1"/>
<text x="411.8" y="350.6" font-size="12.2" text-anchor="middle" fill="#000">77</text>
<text x="437.6" y="350.6" font-size="12.2" text-anchor="middle" fill="#000">74</text>
<text x="463.8" y="350.6" font-size="12.2" text-anchor="middle" fill="#000">66</text>
<text x="489.7" y="350.6" font-size="12.2" text-anchor="middle" fill="#000">58</text>
<text x="516" y="350.6" font-size="12.2" text-anchor="middle" fill="#000">46</text>
<text x="541.3" y="350.6" font-size="12.2" text-anchor="middle" fill="#000">32</text>
<text x="568.5" y="350.6" font-size="12.2" text-anchor="middle" fill="#000">21</text>
<text x="595.9" y="350.6" font-size="12.2" text-anchor="middle" fill="#000">16</text>
<text x="629.1" y="350.6" font-size="12.2" text-anchor="middle" fill="#000">14</text>
<text x="505.9" y="331.9" font-size="14.2" text-anchor="start" fill="#000" textLength="57.6" lengthAdjust="spacingAndGlyphs">Water %</text>
<text x="469.2" y="611.7" font-size="14.2" text-anchor="start" fill="#000" textLength="137.4" lengthAdjust="spacingAndGlyphs">Time delay (minute)</text>
<text transform="translate(365.5,521.5) rotate(-90)" font-size="15" textLength="133.9" lengthAdjust="spacingAndGlyphs">Mass difference (%)</text>
<text x="426" y="544.4" font-size="17" text-anchor="start" fill="#000" textLength="20.6" lengthAdjust="spacingAndGlyphs">(d)</text>
<polygon points="407.2,410.55 410.29,412.8 409.11,416.43 405.29,416.43 404.11,412.8" fill="#0b5253"/>
<polygon points="405.4,413 406.4,411.9 408,411.9 409,413 408.7,413.6 405.7,413.6" fill="#eef4f4"/>
<polygon points="420.5,413.85 423.59,416.1 422.41,419.73 418.59,419.73 417.41,416.1" fill="#0b5253"/>
<polygon points="418.7,416.3 419.7,415.2 421.3,415.2 422.3,416.3 422,416.9 419,416.9" fill="#eef4f4"/>
<polygon points="433.8,434.55 436.89,436.8 435.71,440.43 431.89,440.43 430.71,436.8" fill="#0b5253"/>
<polygon points="432,437 433,435.9 434.6,435.9 435.6,437 435.3,437.6 432.3,437.6" fill="#eef4f4"/>
<polygon points="447.1,448.25 450.19,450.5 449.01,454.13 445.19,454.13 444.01,450.5" fill="#0b5253"/>
<polygon points="445.3,450.7 446.3,449.6 447.9,449.6 448.9,450.7 448.6,451.3 445.6,451.3" fill="#eef4f4"/>
<polygon points="460.4,479.05 463.49,481.3 462.31,484.93 458.49,484.93 457.31,481.3" fill="#0b5253"/>
<polygon points="458.6,481.5 459.6,480.4 461.2,480.4 462.2,481.5 461.9,482.1 458.9,482.1" fill="#eef4f4"/>
<polygon points="473.7,494.85 476.79,497.1 475.61,500.73 471.79,500.73 470.61,497.1" fill="#0b5253"/>
<polygon points="471.9,497.3 472.9,496.2 474.5,496.2 475.5,497.3 475.2,497.9 472.2,497.9" fill="#eef4f4"/>
<polygon points="487,512.45 490.09,514.7 488.91,518.33 485.09,518.33 483.91,514.7" fill="#0b5253"/>
<polygon points="485.2,514.9 486.2,513.8 487.8,513.8 488.8,514.9 488.5,515.5 485.5,515.5" fill="#eef4f4"/>
<polygon points="500.3,532.05 503.39,534.3 502.21,537.93 498.39,537.93 497.21,534.3" fill="#0b5253"/>
<polygon points="498.5,534.5 499.5,533.4 501.1,533.4 502.1,534.5 501.8,535.1 498.8,535.1" fill="#eef4f4"/>
<polygon points="513.6,527.65 516.69,529.9 515.51,533.53 511.69,533.53 510.51,529.9" fill="#0b5253"/>
<polygon points="511.8,530.1 512.8,529 514.4,529 515.4,530.1 515.1,530.7 512.1,530.7" fill="#eef4f4"/>
<polygon points="526.9,551.25 529.99,553.5 528.81,557.13 524.99,557.13 523.81,553.5" fill="#0b5253"/>
<polygon points="525.1,553.7 526.1,552.6 527.7,552.6 528.7,553.7 528.4,554.3 525.4,554.3" fill="#eef4f4"/>
<polygon points="540.2,549.35 543.29,551.6 542.11,555.23 538.29,555.23 537.11,551.6" fill="#0b5253"/>
<polygon points="538.4,551.8 539.4,550.7 541,550.7 542,551.8 541.7,552.4 538.7,552.4" fill="#eef4f4"/>
<polygon points="553.5,540.25 556.59,542.5 555.41,546.13 551.59,546.13 550.41,542.5" fill="#0b5253"/>
<polygon points="551.7,542.7 552.7,541.6 554.3,541.6 555.3,542.7 555,543.3 552,543.3" fill="#eef4f4"/>
<polygon points="566.8,511.75 569.89,514 568.71,517.63 564.89,517.63 563.71,514" fill="#0b5253"/>
<polygon points="565,514.2 566,513.1 567.6,513.1 568.6,514.2 568.3,514.8 565.3,514.8" fill="#eef4f4"/>
<polygon points="580.1,482.05 583.19,484.3 582.01,487.93 578.19,487.93 577.01,484.3" fill="#0b5253"/>
<polygon points="578.3,484.5 579.3,483.4 580.9,483.4 581.9,484.5 581.6,485.1 578.6,485.1" fill="#eef4f4"/>
<polygon points="593.4,381.05 596.49,383.3 595.31,386.93 591.49,386.93 590.31,383.3" fill="#0b5253"/>
<polygon points="591.6,383.5 592.6,382.4 594.2,382.4 595.2,383.5 594.9,384.1 591.9,384.1" fill="#eef4f4"/>
<polygon points="606.7,370.05 609.79,372.3 608.61,375.93 604.79,375.93 603.61,372.3" fill="#0b5253"/>
<polygon points="604.9,372.5 605.9,371.4 607.5,371.4 608.5,372.5 608.2,373.1 605.2,373.1" fill="#eef4f4"/>
<polygon points="620,380.35 623.09,382.6 621.91,386.23 618.09,386.23 616.91,382.6" fill="#0b5253"/>
<polygon points="618.2,382.8 619.2,381.7 620.8,381.7 621.8,382.8 621.5,383.4 618.5,383.4" fill="#eef4f4"/>
<polygon points="633.3,379.35 636.39,381.6 635.21,385.23 631.39,385.23 630.21,381.6" fill="#0b5253"/>
<polygon points="631.5,381.8 632.5,380.7 634.1,380.7 635.1,381.8 634.8,382.4 631.8,382.4" fill="#eef4f4"/>
<polygon points="646.6,378.45 649.69,380.7 648.51,384.33 644.69,384.33 643.51,380.7" fill="#0b5253"/>
<polygon points="644.8,380.9 645.8,379.8 647.4,379.8 648.4,380.9 648.1,381.5 645.1,381.5" fill="#eef4f4"/>
<polygon points="659.9,378.45 662.99,380.7 661.81,384.33 657.99,384.33 656.81,380.7" fill="#0b5253"/>
<polygon points="658.1,380.9 659.1,379.8 660.7,379.8 661.7,380.9 661.4,381.5 658.4,381.5" fill="#eef4f4"/>
</svg></body></html>
